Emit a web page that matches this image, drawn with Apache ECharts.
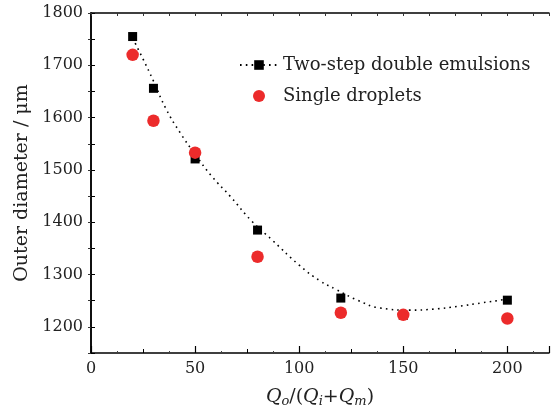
<!DOCTYPE html>
<html>
<head>
<meta charset="utf-8">
<script src="https://cdn.jsdelivr.net/npm/echarts@6/dist/echarts.min.js"></script>
<style>
    html, body { margin: 0; padding: 0; background: #fff; }
    #chart { width: 555px; height: 407px; }
</style>
</head>
<body>
<div id="chart"></div>
<script>
// flow ratio
var flowRatio = [20, 30, 50, 80, 120, 150, 200];
var twoStep = [1755, 1656, 1521, 1385, 1255, 1222, 1251];
var singleDrop = [1720, 1594, 1533, 1334, 1227, 1223, 1216];
// dotted fit curve
var fitX = [20, 25, 30, 36, 43, 50, 58, 67, 77, 87, 100, 110, 118, 128, 139, 153, 165, 176, 188, 198, 200];
var fitY = [1752, 1712, 1670, 1617, 1570, 1530, 1488, 1449, 1403, 1366, 1318, 1288, 1271, 1251, 1236, 1232, 1234, 1239, 1246, 1252, 1254];

var font = 'DejaVu Serif';

function pairs(xs, ys) {
    var out = [];
    for (var i = 0; i < xs.length; i++) {
        out.push([xs[i], ys[i]]);
    }
    return out;
}

var myChart = echarts.init(document.getElementById('chart'));
var option = {
    animation: false,
    backgroundColor: '#fff',
    grid: { left: 91, right: 6, top: 13, bottom: 54, outerBoundsMode: 'none' },
    legend: {
        left: 234,
        top: 51,
        orient: 'vertical',
        itemWidth: 38,
        itemHeight: 12,
        itemGap: 13,
        data: ['Two-step double emulsions', 'Single droplets'],
        textStyle: { fontFamily: font, fontSize: 18, lineHeight: 18, color: '#222' }
    },
    xAxis: [
        {
            type: 'value', position: 'bottom', min: 0, max: 220, interval: 50,
            axisLine: { lineStyle: { color: '#000', width: 1.5 } },
            axisTick: { inside: true, length: 7, lineStyle: { color: '#000', width: 1.2 } },
            axisLabel: {
                margin: 8, fontFamily: font, fontSize: 16, color: '#222',
                formatter: function (v) { return v % 50 === 0 ? v : ''; }
            },
            splitLine: { show: false },
            name: '{i|Q}{s|o}{n|/(}{i|Q}{s|i}{n|+}{i|Q}{s|m}{n|)}',
            nameLocation: 'middle',
            nameGap: 33,
            nameTextStyle: {
                rich: {
                    i: { fontFamily: font, fontStyle: 'italic', fontSize: 19, color: '#222' },
                    s: { fontFamily: font, fontStyle: 'italic', fontSize: 13, color: '#222', verticalAlign: 'bottom', padding: [9, 0, 0, 0] },
                    n: { fontFamily: font, fontSize: 19, color: '#222' }
                }
            }
        },
        {
            type: 'value', position: 'bottom', min: 0, max: 220, interval: 25,
            axisLine: { show: false },
            axisTick: { inside: true, length: 4, lineStyle: { color: '#000', width: 1 } },
            minorTick: { show: true, splitNumber: 2, length: 2, lineStyle: { color: '#444' } },
            axisLabel: { show: false },
            splitLine: { show: false }
        },
        {
            type: 'value', position: 'top', min: 0, max: 220, interval: 25,
            axisLine: { lineStyle: { color: '#000', width: 1.5 } },
            axisTick: { inside: true, length: 3, lineStyle: { color: '#333' } },
            minorTick: { show: true, splitNumber: 2, length: 3, lineStyle: { color: '#333' } },
            axisLabel: { show: false },
            splitLine: { show: false }
        }
    ],
    yAxis: [
        {
            type: 'value', position: 'left', min: 1150, max: 1800, interval: 50,
            axisLine: { lineStyle: { color: '#000', width: 1.5 } },
            axisTick: { inside: true, length: 4, lineStyle: { color: '#000', width: 1 } },
            axisLabel: {
                margin: 8, fontFamily: font, fontSize: 16, color: '#222',
                formatter: function (v) { return v % 100 === 0 ? v : ''; }
            },
            splitLine: { show: false },
            name: 'Outer diameter / μm',
            nameLocation: 'middle',
            nameGap: 59,
            nameTextStyle: { fontFamily: font, fontSize: 19, color: '#222' }
        },
        {
            type: 'value', position: 'right', min: 1150, max: 1800, interval: 50,
            axisLine: { lineStyle: { color: '#000', width: 1.5 } },
            axisTick: { inside: true, length: 3, lineStyle: { color: '#333' } },
            axisLabel: { show: false },
            splitLine: { show: false }
        }
    ],
    series: [
        {
            name: 'Two-step double emulsions',
            type: 'line',
            smooth: true,
            showSymbol: false,
            symbol: 'rect',
            symbolSize: 9,
            itemStyle: { color: '#000' },
            lineStyle: { color: '#000', width: 1.6, type: [1.6, 4.2] },
            data: pairs(fitX, fitY),
            z: 2
        },
        {
            name: 'squares',
            type: 'scatter',
            symbol: 'rect',
            symbolSize: 9,
            itemStyle: { color: '#000', opacity: 1 },
            data: pairs(flowRatio, twoStep),
            z: 3
        },
        {
            name: 'Single droplets',
            type: 'scatter',
            symbol: 'circle',
            symbolSize: 12.5,
            itemStyle: { color: '#ec2b2b', opacity: 1 },
            data: pairs(flowRatio, singleDrop),
            z: 4
        }
    ]
};
myChart.setOption(option);
</script>
</body>
</html>
